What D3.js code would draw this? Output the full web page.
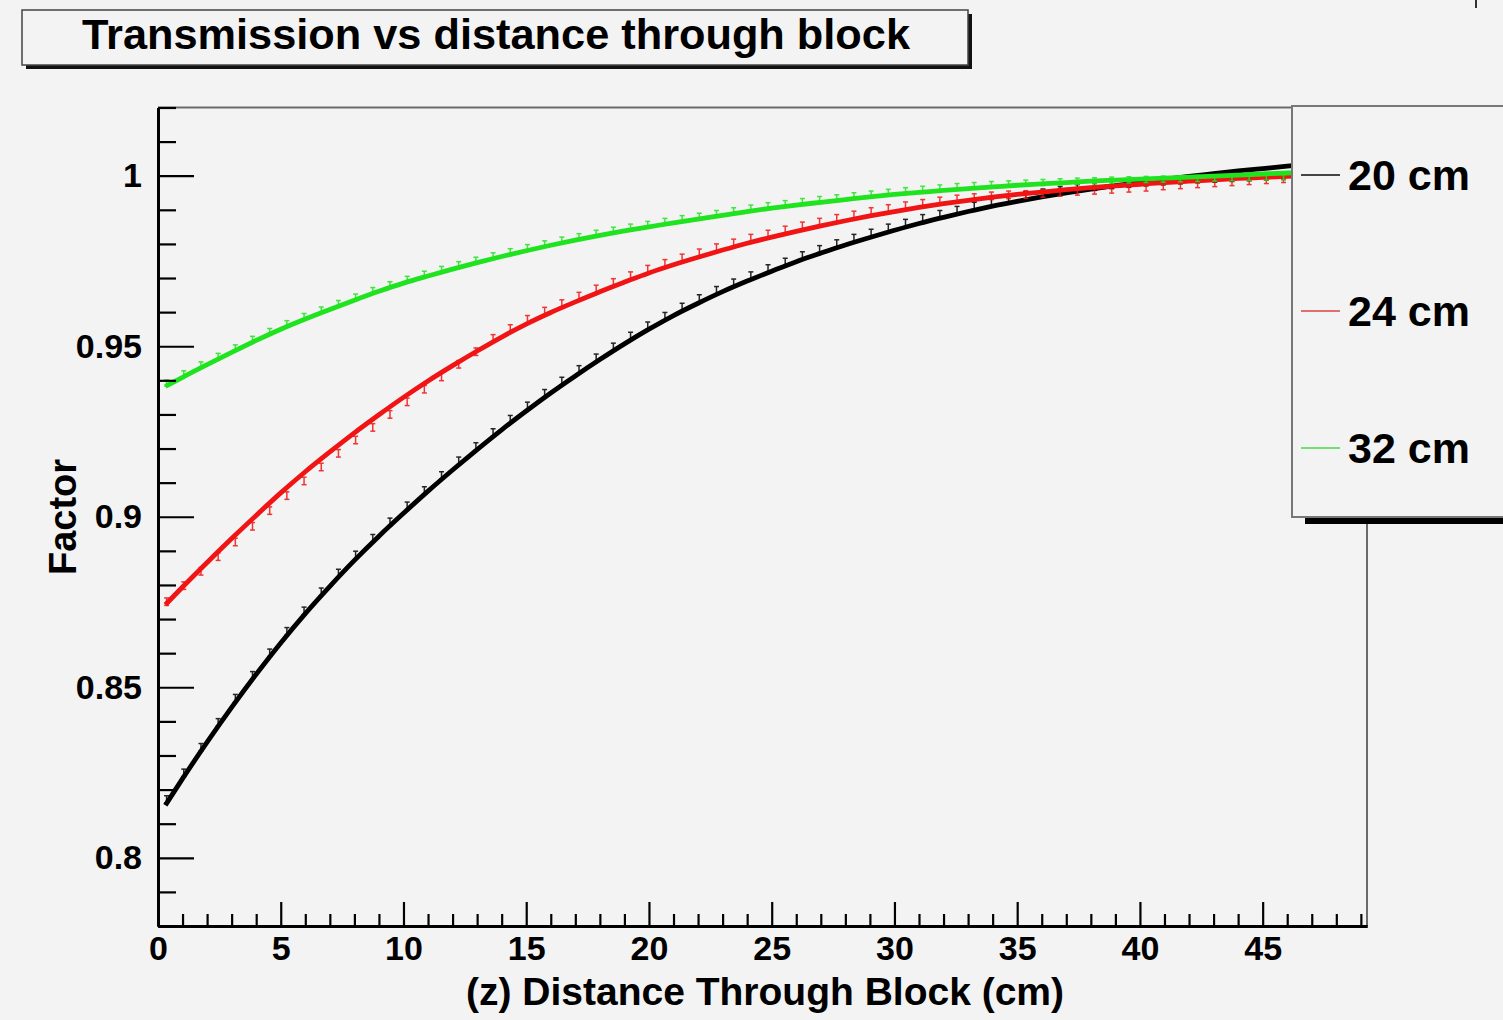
<!DOCTYPE html>
<html>
<head>
<meta charset="utf-8">
<script src="https://cdn.jsdelivr.net/npm/d3@7"></script>
<style>
  html, body { margin: 0; padding: 0; background: #f3f3f3; }
  svg { display: block; }
  text { font-family: "Liberation Sans", Arial, Helvetica, sans-serif; font-weight: bold; fill: #000; }
</style>
</head>
<body>
<svg id="chart" width="1503" height="1020"></svg>
<script>
// ---------------- data ----------------
const chartTitle = "Transmission vs distance through block";
const xTitle = "(z) Distance Through Block (cm)";
const yTitle = "Factor";
const seriesNames = ["20 cm", "24 cm", "32 cm"];

const xTickValues = [0, 5, 10, 15, 20, 25, 30, 35, 40, 45];
const xTickLabels = ["0", "5", "10", "15", "20", "25", "30", "35", "40", "45"];
const yTickValues = [0.8, 0.85, 0.9, 0.95, 1];
const yTickLabels = ["0.8", "0.85", "0.9", "0.95", "1"];

// fitted curves
const fitX = [0.3,1,2,3,4,5,6,7,8,9,10,11,12,13,14,15,16,17,18,19,20,21,22,23,24,25,26,27,28,29,30,31,32,33,34,35,36,37,38,39,40,41,42,43,44,45,46,47,48,49];
const fit20 = [0.8154,0.8232,0.8339,0.8441,0.8538,0.8630,0.8716,0.8796,0.8872,0.8943,0.9010,0.9075,0.9137,0.9197,0.9255,0.9310,0.9363,0.9413,0.9461,0.9507,0.9550,0.9590,0.9626,0.9660,0.9691,0.9720,0.9748,0.9773,0.9797,0.9819,0.9840,0.9860,0.9878,0.9895,0.9911,0.9925,0.9938,0.9950,0.9961,0.9971,0.9980,0.9989,0.9998,1.0006,1.0014,1.0021,1.0028,1.0034,1.0040,1.0045];
const fit24 = [0.8742,0.8794,0.8866,0.8936,0.9004,0.9070,0.9132,0.9190,0.9246,0.9299,0.9350,0.9398,0.9443,0.9486,0.9527,0.9565,0.9599,0.9630,0.9660,0.9688,0.9715,0.9739,0.9761,0.9782,0.9802,0.9820,0.9837,0.9853,0.9868,0.9882,0.9895,0.9907,0.9918,0.9928,0.9937,0.9945,0.9952,0.9959,0.9965,0.9970,0.9975,0.9980,0.9984,0.9988,0.9992,0.9995,0.9998,1.0001,1.0004,1.0007];
const fit32 = [0.9382,0.9409,0.9446,0.9482,0.9517,0.9550,0.9580,0.9608,0.9635,0.9661,0.9685,0.9706,0.9726,0.9745,0.9763,0.9780,0.9796,0.9811,0.9825,0.9838,0.9850,0.9862,0.9873,0.9884,0.9895,0.9905,0.9914,0.9922,0.9930,0.9938,0.9945,0.9951,0.9957,0.9962,0.9967,0.9972,0.9976,0.9980,0.9984,0.9987,0.9990,0.9993,0.9996,0.9999,1.0002,1.0005,1.0008,1.0010,1.0013,1.0015];

// measured points (bin centres) with error bars
const binX = [0.35,1.05,1.75,2.45,3.15,3.85,4.55,5.25,5.95,6.65,7.35,8.05,8.75,9.45,10.15,10.85,11.55,12.25,12.95,13.65,14.35,15.05,15.75,16.45,17.15,17.85,18.55,19.25,19.95,20.65,21.35,22.05,22.75,23.45,24.15,24.85,25.55,26.25,26.95,27.65,28.35,29.05,29.75,30.45,31.15,31.85,32.55,33.25,33.95,34.65,35.35,36.05,36.75,37.45,38.15,38.85,39.55,40.25,40.95,41.65,42.35,43.05,43.75,44.45,45.15,45.85];
const data20 = [0.8171,0.8249,0.8324,0.8397,0.8468,0.8535,0.8601,0.8664,0.8724,0.8780,0.8835,0.8888,0.8937,0.8985,0.9032,0.9077,0.9121,0.9164,0.9206,0.9247,0.9286,0.9325,0.9362,0.9398,0.9432,0.9466,0.9498,0.9530,0.9560,0.9588,0.9615,0.9640,0.9664,0.9686,0.9707,0.9728,0.9747,0.9766,0.9784,0.9801,0.9817,0.9832,0.9847,0.9861,0.9875,0.9887,0.9899,0.9911,0.9922,0.9932,0.9942,0.9950,0.9957,0.9963,0.9968,0.9973,0.9977,0.9981,0.9984,0.9987,0.9990,0.9992,0.9994,0.9996,0.9998,1.0000];
const data24 = [0.8751,0.8798,0.8840,0.8883,0.8926,0.8972,0.9018,0.9062,0.9105,0.9146,0.9186,0.9225,0.9262,0.9300,0.9337,0.9374,0.9410,0.9447,0.9484,0.9523,0.9552,0.9579,0.9603,0.9625,0.9647,0.9668,0.9687,0.9707,0.9726,0.9743,0.9759,0.9774,0.9789,0.9803,0.9817,0.9829,0.9841,0.9853,0.9864,0.9875,0.9885,0.9895,0.9904,0.9912,0.9919,0.9926,0.9932,0.9936,0.9941,0.9944,0.9945,0.9948,0.9951,0.9954,0.9957,0.9960,0.9963,0.9966,0.9970,0.9973,0.9976,0.9979,0.9982,0.9985,0.9988,0.9991];
const data32 = [0.9392,0.9419,0.9445,0.9470,0.9495,0.9520,0.9543,0.9566,0.9587,0.9606,0.9625,0.9644,0.9663,0.9680,0.9696,0.9711,0.9725,0.9739,0.9752,0.9765,0.9777,0.9789,0.9800,0.9811,0.9821,0.9831,0.9840,0.9849,0.9857,0.9866,0.9874,0.9881,0.9889,0.9897,0.9905,0.9912,0.9918,0.9924,0.9930,0.9935,0.9941,0.9946,0.9951,0.9956,0.9960,0.9964,0.9968,0.9971,0.9974,0.9976,0.9978,0.9980,0.9982,0.9984,0.9985,0.9987,0.9988,0.9989,0.9990,0.9991,0.9992,0.9993,0.9994,0.9995,0.9996,0.9997];
const dataErrors = [0.0011, 0.0011, 0.0009];

// ---------------- layout / style ----------------
const seriesColors = ["#000000", "#f01414", "#1ee31e"];
const legendLineColors = ["#444444", "#e07070", "#70e070"];
const W = 1503, H = 1020;
const plot = { left: 158, right: 1367, top: 107.5, bottom: 926 };

const svg = d3.select("#chart");
const x = d3.scaleLinear().domain([0, 49.25]).range([plot.left, plot.right]);
const y = d3.scaleLinear().domain([0.78, 1.02]).range([plot.bottom, plot.top]);

svg.append("rect").attr("width", W).attr("height", H).attr("fill", "#f3f3f3");

// frame (top & right, grey)
svg.append("path")
  .attr("d", `M${plot.left},${plot.top}H${plot.right}V${plot.bottom}`)
  .attr("fill", "none").attr("stroke", "#6a6a6a").attr("stroke-width", 2);

svg.append("clipPath").attr("id", "clip").append("rect")
  .attr("x", plot.left).attr("y", plot.top)
  .attr("width", plot.right - plot.left).attr("height", plot.bottom - plot.top);

const gData = svg.append("g").attr("clip-path", "url(#clip)");
const fits = [fit20, fit24, fit32];
const datas = [data20, data24, data32];
const line = d3.line().x(d => x(d[0])).y(d => y(d[1])).curve(d3.curveMonotoneX);

fits.forEach((fit, si) => {
  const pts = binX.map((bx, i) => ({ x: bx, v: datas[si][i], e: dataErrors[si] }));
  const g = gData.append("g").attr("stroke", seriesColors[si]).attr("stroke-width", 1.5).attr("fill", "none").attr("opacity", 0.85);
  const eb = g.selectAll("g.eb").data(pts).join("g").attr("class", "eb");
  eb.append("line")
    .attr("x1", d => x(d.x)).attr("x2", d => x(d.x))
    .attr("y1", d => y(d.v - d.e)).attr("y2", d => y(d.v + d.e));
  eb.append("line")
    .attr("x1", d => x(d.x) - 2.5).attr("x2", d => x(d.x) + 2.5)
    .attr("y1", d => y(d.v + d.e)).attr("y2", d => y(d.v + d.e));
  eb.append("line")
    .attr("x1", d => x(d.x) - 2.5).attr("x2", d => x(d.x) + 2.5)
    .attr("y1", d => y(d.v - d.e)).attr("y2", d => y(d.v - d.e));
  gData.append("path")
    .datum(fitX.map((fx, i) => [fx, fit[i]]))
    .attr("d", line)
    .attr("fill", "none")
    .attr("stroke", seriesColors[si])
    .attr("stroke-width", 4.8)
    .attr("stroke-linejoin", "round");
});

// ---------------- axes ----------------
const yAxis = d3.axisLeft(y).tickValues(yTickValues)
  .tickFormat((d, i) => yTickLabels[i]).tickSizeInner(-36).tickSizeOuter(0).tickPadding(16);
const yMinor = d3.axisLeft(y).tickValues(d3.range(0, 25).map(i => 0.78 + i * 0.01).filter(v => !yTickValues.some(t => Math.abs(t - v) < 1e-6)))
  .tickFormat("").tickSizeInner(-18).tickSizeOuter(0);
const xAxis = d3.axisBottom(x).tickValues(xTickValues)
  .tickFormat((d, i) => xTickLabels[i]).tickSizeInner(-24).tickSizeOuter(0).tickPadding(10);
const xMinor = d3.axisBottom(x).tickValues(d3.range(0, 50).filter(v => v % 5 !== 0))
  .tickFormat("").tickSizeInner(-12).tickSizeOuter(0);

function styleAxis(g, fs) {
  g.selectAll(".tick line").attr("stroke", "#000").attr("stroke-width", 2.2);
  g.selectAll(".tick text").attr("font-size", fs).attr("font-family", "Liberation Sans, Arial, sans-serif").attr("font-weight", "bold").attr("fill", "#000");
  g.select(".domain").attr("stroke", "#000").attr("stroke-width", 3);
}
svg.append("g").attr("transform", `translate(${plot.left},0)`).call(yMinor).call(g => styleAxis(g, 0));
svg.append("g").attr("transform", `translate(${plot.left},0)`).call(yAxis).call(g => styleAxis(g, 34));
svg.append("g").attr("transform", `translate(0,${plot.bottom})`).call(xMinor).call(g => styleAxis(g, 0));
svg.append("g").attr("transform", `translate(0,${plot.bottom})`).call(xAxis).call(g => styleAxis(g, 34));

svg.append("text").attr("x", 765).attr("y", 1005)
  .attr("text-anchor", "middle").attr("font-size", 39).text(xTitle);
svg.append("text").attr("transform", "translate(76,517) rotate(-90)")
  .attr("text-anchor", "middle").attr("font-size", 38).text(yTitle);

// ---------------- title box ----------------
svg.append("rect").attr("x", 26).attr("y", 14).attr("width", 946).attr("height", 55).attr("fill", "#111");
svg.append("rect").attr("x", 22).attr("y", 10).attr("width", 946).attr("height", 55)
  .attr("fill", "#f3f3f3").attr("stroke", "#444").attr("stroke-width", 1.5);
svg.append("text").attr("x", 496).attr("y", 49).attr("text-anchor", "middle")
  .attr("font-size", 42).attr("textLength", 828).attr("lengthAdjust", "spacingAndGlyphs").text(chartTitle);

// ---------------- legend ----------------
svg.append("rect").attr("x", 1305).attr("y", 116).attr("width", 220).attr("height", 408).attr("fill", "#000");
svg.append("rect").attr("x", 1292).attr("y", 106).attr("width", 230).attr("height", 411)
  .attr("fill", "#f3f3f3").attr("stroke", "#777").attr("stroke-width", 2);
const legendY = [175, 311, 448];
seriesNames.forEach((name, i) => {
  svg.append("line").attr("x1", 1301).attr("x2", 1340).attr("y1", legendY[i]).attr("y2", legendY[i])
    .attr("stroke", legendLineColors[i]).attr("stroke-width", 2);
  svg.append("text").attr("x", 1348).attr("y", legendY[i] + 15).attr("font-size", 43).text(name);
});

// small mark at top right
svg.append("line").attr("x1", 1476).attr("x2", 1476).attr("y1", 0).attr("y2", 8).attr("stroke", "#333").attr("stroke-width", 2);
</script>
</body>
</html>
